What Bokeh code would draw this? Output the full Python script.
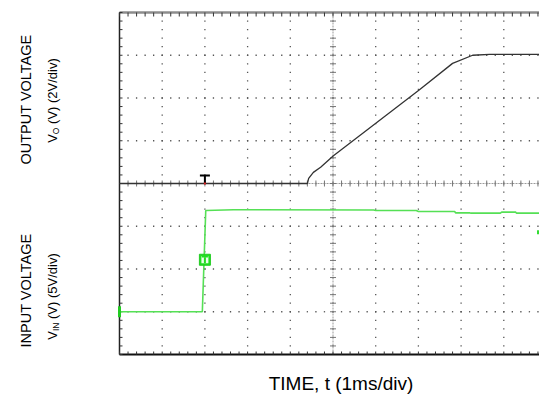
import numpy as np
from bokeh.plotting import figure
from bokeh.models import Range1d, Label
from bokeh.embed import file_html
from bokeh.resources import INLINE

# ---------------- data ----------------
# output voltage trace (time in ms, volts) - 2 V/div, zero at division 4
vo_time_ms = [0.0, 4.40, 4.43, 4.54, 4.71, 5.01, 7.01, 7.80, 8.27, 8.67, 9.84]
vo_volts = [0.0, 0.0, 0.24, 0.52, 0.76, 1.30, 4.36, 5.62, 6.00, 6.04, 6.04]
# input voltage trace (time in ms, volts) - 5 V/div, zero at division 1
vin_time_ms = [0.0, 1.94, 2.02, 2.67, 5.95, 6.00, 6.95, 7.00, 7.85, 7.87,
               8.20, 8.23, 8.92, 8.95, 9.28, 9.30, 9.84]
vin_volts = [0.0, 0.0, 11.85, 11.93, 11.90, 11.84, 11.84, 11.73, 11.73, 11.57,
             11.57, 11.53, 11.53, 11.65, 11.65, 11.53, 11.53]
trigger_time_ms = 2.0
x_label = "TIME, t (1ms/div)"
y_titles = ["OUTPUT VOLTAGE", "INPUT VOLTAGE"]
y_subs = [("O", "(V) (2V/div)"), ("IN", "(V) (5V/div)")]

VO_V_PER_DIV = 2.0
VIN_V_PER_DIV = 5.0
MS_PER_DIV = 1.0
VO_ZERO_DIV = 4.0
VIN_ZERO_DIV = 1.0
N_XDIV = 10
N_YDIV = 8

# ---------------- layout (screen graticule placement) ----------------
W, H = 539, 394
GRAT_LEFT, GRAT_TOP, GRAT_BOTTOM = 119, 12, 354
PXX = 42.7                                   # px per horizontal division
PXY = (GRAT_BOTTOM - GRAT_TOP) / N_YDIV      # px per vertical division
X0 = -GRAT_LEFT / PXX
X1 = (W - GRAT_LEFT) / PXX
Y0 = -(H - GRAT_BOTTOM) / PXY
Y1 = N_YDIV + GRAT_TOP / PXY
X_END = min(N_XDIV, X1)

FONT = "Liberation Sans"

p = figure(width=W, height=H, x_range=Range1d(X0, X1), y_range=Range1d(Y0, Y1),
           output_backend="svg", toolbar_location=None,
           x_axis_location=None, y_axis_location=None,
           min_border_left=0, min_border_right=0, min_border_top=0, min_border_bottom=0)
p.outline_line_color = None
p.background_fill_color = "white"
p.border_fill_color = "white"
p.xgrid.visible = False
p.ygrid.visible = False

def px_x(n):
    return n / PXX

def px_y(n):
    return n / PXY

def page_x(px):
    return (px - GRAT_LEFT) / PXX

def page_y(py):
    return (GRAT_BOTTOM - py) / PXY

# dotted graticule
minor_x = np.round(np.arange(0, N_XDIV + 0.001, 0.2), 3)
minor_y = np.round(np.arange(0, N_YDIV + 0.001, 0.2), 3)
gx, gy = [], []
for mx in range(1, N_XDIV):
    for my in minor_y[1:-1]:
        gx.append(mx); gy.append(my)
for my in range(1, N_YDIV):
    for mx in minor_x[1:]:
        gx.append(mx); gy.append(my)
p.scatter(gx, gy, marker="square", size=1.3, color="#555555", line_width=0)

# centre cross lines with ticks
p.segment(x0=[0], y0=[4], x1=[X_END], y1=[4], line_color="#9a9a9a", line_width=1, line_dash="2 1")
p.segment(x0=[5], y0=[0], x1=[5], y1=[N_YDIV], line_color="#9a9a9a", line_width=1, line_dash="2 1")
tx = [v for v in minor_x if v <= X_END]
p.segment(x0=tx, y0=[4 - px_y(3)] * len(tx), x1=tx, y1=[4 + px_y(3)] * len(tx),
          line_color="#777777", line_width=1)
p.segment(x0=[5 - px_x(3)] * len(minor_y), y0=list(minor_y), x1=[5 + px_x(3)] * len(minor_y),
          y1=list(minor_y), line_color="#777777", line_width=1)

# frame borders and ticks
p.segment(x0=[0], y0=[N_YDIV], x1=[X_END], y1=[N_YDIV], line_color="#8c8c8c", line_width=2.5)
p.segment(x0=[0], y0=[0], x1=[X_END], y1=[0], line_color="#111111", line_width=2)
p.segment(x0=[0], y0=[0], x1=[0], y1=[N_YDIV], line_color="#222222", line_width=1.5)
p.segment(x0=tx, y0=[N_YDIV] * len(tx), x1=tx, y1=[N_YDIV - px_y(4)] * len(tx),
          line_color="#333333", line_width=1)
p.segment(x0=tx, y0=[0] * len(tx), x1=tx, y1=[px_y(3)] * len(tx),
          line_color="#333333", line_width=1)
p.segment(x0=[0] * len(minor_y), y0=list(minor_y), x1=[px_x(3)] * len(minor_y), y1=list(minor_y),
          line_color="#333333", line_width=1)

# traces
vo_x = [t / MS_PER_DIV for t in vo_time_ms]
vo_y = [VO_ZERO_DIV + v / VO_V_PER_DIV for v in vo_volts]
vin_x = [t / MS_PER_DIV for t in vin_time_ms]
vin_y = [VIN_ZERO_DIV + v / VIN_V_PER_DIV for v in vin_volts]
p.line(vin_x, vin_y, line_color="#55e055", line_width=1.6)
p.line(vo_x, vo_y, line_color="#333333", line_width=1.3)

# trigger marker on output trace
tt = trigger_time_ms / MS_PER_DIV
p.segment(x0=[tt], y0=[VO_ZERO_DIV], x1=[tt], y1=[VO_ZERO_DIV + px_y(8)], line_color="black", line_width=2)
p.segment(x0=[tt - px_x(5)], y0=[VO_ZERO_DIV + px_y(8)], x1=[tt + px_x(5)], y1=[VO_ZERO_DIV + px_y(8)],
          line_color="black", line_width=2)
p.scatter([tt], [VO_ZERO_DIV], marker="square", size=2, color="#dd2222", line_width=0)

# trigger level marker (green box with T)
ty = VIN_ZERO_DIV + px_y(52)
p.rect([tt], [ty], width=11, height=11, width_units="screen", height_units="screen",
       fill_color="#22dd22", line_color="#22cc22")
p.rect([tt], [ty], width=7, height=7, width_units="screen", height_units="screen",
       fill_color="#eaffea", line_color=None)
p.rect([tt], [ty - px_y(0.5)], width=2, height=6, width_units="screen", height_units="screen",
       fill_color="#22dd22", line_color=None)
p.rect([tt], [ty + px_y(3)], width=6, height=1.5, width_units="screen", height_units="screen",
       fill_color="#22dd22", line_color=None)

# channel ground marker for input channel, and right-edge marker
p.rect([0], [VIN_ZERO_DIV], width=3, height=11, width_units="screen", height_units="screen",
       fill_color="#22cc22", line_color=None)
p.rect([page_x(538)], [page_y(231.7)], width=3, height=4, width_units="screen", height_units="screen",
       fill_color="#33dd33", line_color=None)

# ---------------- texts ----------------
FS = 14.5
FS2 = 13
TC = "#000000"
p.add_layout(Label(x=page_x(340.5), y=page_y(383), text=x_label, text_font=FONT,
                   text_font_size="19px", text_align="center", text_baseline="middle",
                   text_color=TC))

for title, cy in zip(y_titles, (99, 290)):
    p.add_layout(Label(x=page_x(25), y=page_y(cy), text=title, angle=np.pi / 2,
                       text_font=FONT, text_font_size=f"{FS}px", text_align="center",
                       text_baseline="middle", text_color=TC))

def sub_label(sub, rest, cy, sub_w):
    v_w = 0.667 * FS2
    gap = 0.278 * FS2
    rest_w = 5.056 * FS2
    total = v_w + sub_w + gap + rest_w
    start = cy + total / 2
    p.add_layout(Label(x=page_x(52), y=page_y(start), text="V", angle=np.pi / 2,
                       text_font=FONT, text_font_size=f"{FS2}px", text_align="left",
                       text_baseline="middle", text_color=TC))
    p.add_layout(Label(x=page_x(55.5), y=page_y(start - v_w), text=sub, angle=np.pi / 2,
                       text_font=FONT, text_font_size="8.5px", text_align="left",
                       text_baseline="middle", text_color=TC))
    p.add_layout(Label(x=page_x(52), y=page_y(start - v_w - sub_w - gap), text=rest, angle=np.pi / 2,
                       text_font=FONT, text_font_size=f"{FS2}px", text_align="left",
                       text_baseline="middle", text_color=TC))

for (sub, rest), cy, sw in zip(y_subs, (100, 296), (6.6, 8.5)):
    sub_label(sub, rest, cy, sw)

open("out.html", "w").write(file_html(p, INLINE))
